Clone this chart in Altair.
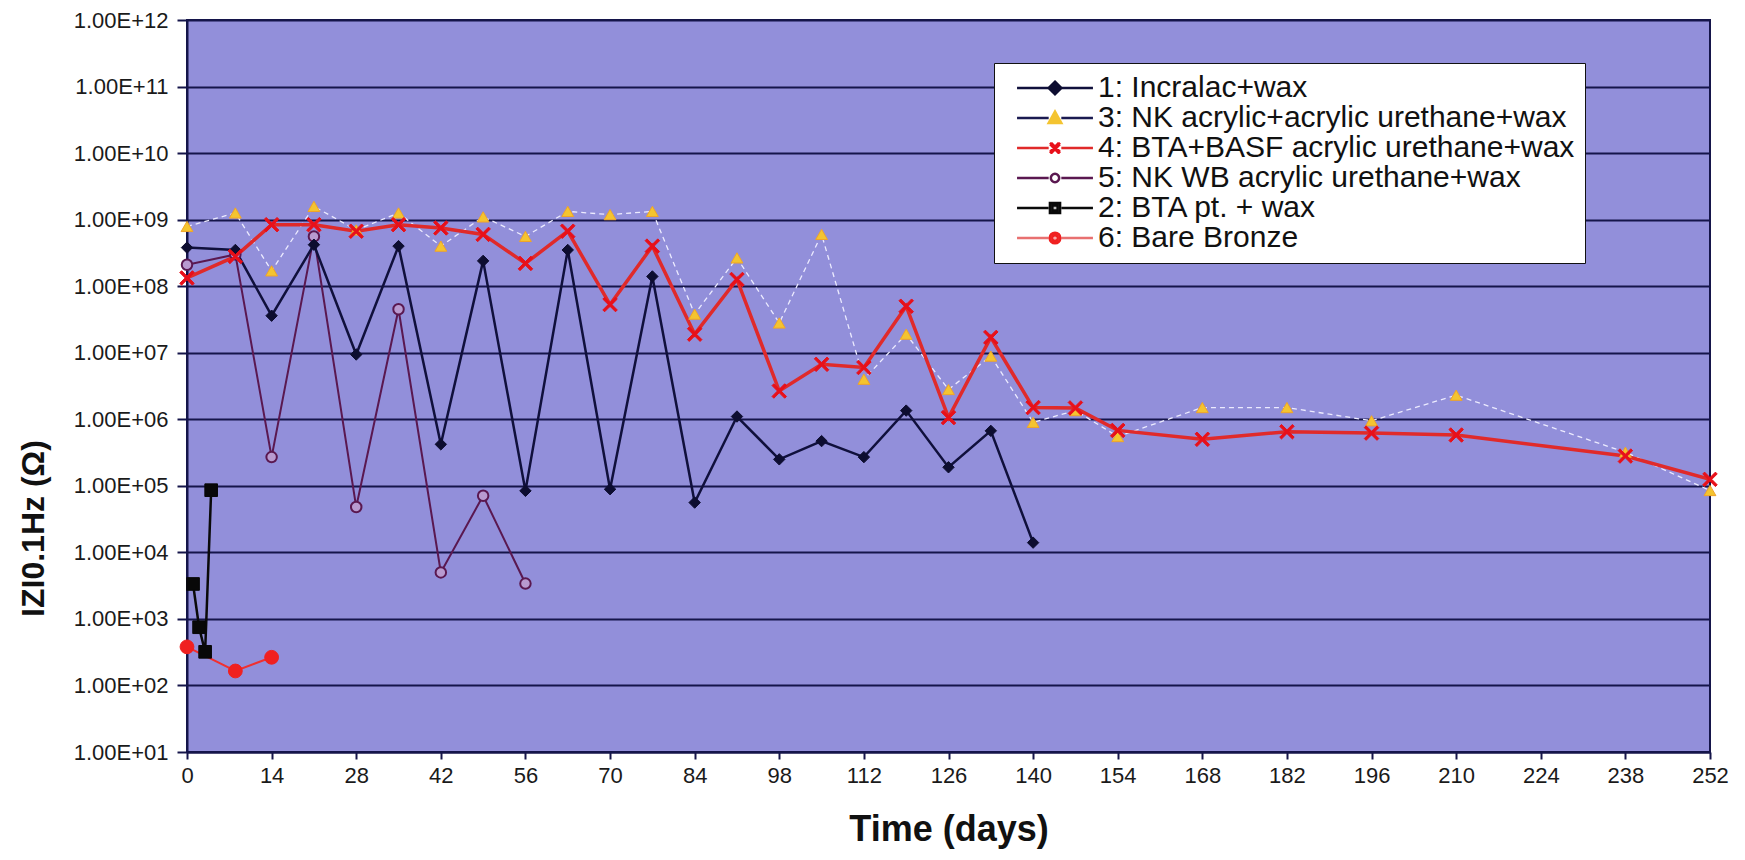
import altair as alt
import pandas as pd

# ---------------- data ----------------
names = [
    "1: Incralac+wax",
    "3: NK acrylic+acrylic urethane+wax",
    "4: BTA+BASF acrylic urethane+wax",
    "5: NK WB acrylic urethane+wax",
    "2: BTA pt. + wax",
    "6: Bare Bronze",
]

days_1 = [0, 8, 14, 21, 28, 35, 42, 49, 56, 63, 70, 77, 84, 91, 98, 105, 112, 119, 126, 133, 140]
z_1 = [3.8e8, 3.5e8, 3.6e7, 4.2e8, 9.4e6, 4.0e8, 4.2e5, 2.4e8, 8.4e4, 3.5e8, 8.9e4,
       1.4e8, 5.6e4, 1.1e6, 2.5e5, 4.7e5, 2.7e5, 1.35e6, 1.9e5, 6.7e5, 1.4e4]

days_3 = [0, 8, 14, 21, 28, 35, 42, 49, 56, 63, 70, 77, 84, 91, 98, 105, 112, 119, 126, 133,
          140, 147, 154, 168, 182, 196, 210, 238, 252]
z_3 = [7.9e8, 1.26e9, 1.7e8, 1.58e9, 7.0e8, 1.26e9, 4.0e8, 1.1e9, 5.6e8, 1.33e9, 1.19e9,
       1.33e9, 3.8e7, 2.66e8, 2.8e7, 6.0e8, 4.0e6, 1.9e7, 2.8e6, 8.9e6, 9.0e5, 1.35e6,
       5.5e5, 1.5e6, 1.5e6, 9.5e5, 2.3e6, 3.2e5, 8.5e4]

days_4 = [0, 8, 14, 21, 28, 35, 42, 49, 56, 63, 70, 77, 84, 91, 98, 105, 112, 119, 126, 133,
          140, 147, 154, 168, 182, 196, 210, 238, 252]
z_4 = [1.33e8, 2.8e8, 8.4e8, 8.4e8, 6.7e8, 8.4e8, 7.5e8, 6.0e8, 2.2e8, 6.7e8, 5.3e7,
       4.0e8, 1.9e7, 1.26e8, 2.66e6, 6.7e6, 6.0e6, 5.0e7, 1.06e6, 1.7e7, 1.5e6, 1.48e6,
       6.8e5, 5.0e5, 6.5e5, 6.2e5, 5.8e5, 2.8e5, 1.25e5]

days_5 = [0, 8, 14, 21, 28, 35, 42, 49, 56]
z_5 = [2.1e8, 3.0e8, 2.7e5, 5.6e8, 4.8e4, 4.5e7, 5.0e3, 7.1e4, 3.4e3]

days_2 = [1, 2, 3, 4]
z_2 = [3.35e3, 7.5e2, 3.2e2, 8.6e4]

days_6 = [0, 8, 14]
z_6 = [3.8e2, 1.65e2, 2.65e2]

x_ticks = list(range(0, 253, 14))
y_ticks = [10.0 ** k for k in range(1, 13)]

# ---------------- table ----------------
series_data = {
    names[0]: (days_1, z_1),
    names[1]: (days_3, z_3),
    names[2]: (days_4, z_4),
    names[3]: (days_5, z_5),
    names[4]: (days_2, z_2),
    names[5]: (days_6, z_6),
}
rows = []
for name, (dd, zz) in series_data.items():
    for d, z in zip(dd, zz):
        rows.append({"series": name, "day": d, "z": z})
df = pd.DataFrame(rows)

# ---------------- styles ----------------
NAVY = "#15154a"
X_PATH = ("M-1,-0.75L-0.75,-1L0,-0.25L0.75,-1L1,-0.75L0.25,0L1,0.75L0.75,1"
          "L0,0.25L-0.75,1L-1,0.75L-0.25,0Z")

style = {
    names[0]: dict(line="#10103c", lw=2.5, dash=None, shape="diamond", size=130,
                   fill="#0d0d30", stroke="#0d0d30", sw=1),
    names[1]: dict(line="#ecebff", lw=1.3, dash=[5, 4], shape="triangle-up", size=140,
                   fill="#f4c430", stroke="#f0a428", sw=1),
    names[2]: dict(line="#e02a2a", lw=3.5, dash=None, shape=X_PATH, size=210,
                   fill="#e8101a", stroke="#e8101a", sw=1),
    names[3]: dict(line="#5a1850", lw=2, dash=None, shape="circle", size=110,
                   fill="#b89ad0", stroke="#5a1850", sw=2),
    names[4]: dict(line="#0a0a0a", lw=2.5, dash=None, shape="square", size=160,
                   fill="#080808", stroke="#080808", sw=1),
    names[5]: dict(line="#f03030", lw=2, dash=None, shape="circle", size=190,
                   fill="#f02020", stroke="#f02020", sw=1),
}
draw_order = [names[3], names[0], names[1], names[2], names[4], names[5]]

# legend glyphs: a line legend underneath, a marker legend on top (markers drawn by nested strokes)
LEG_LINE = "M-3,0L-0.5,0M0.5,0L3,0"
leg_line_colors = ["#10103c", "#1a1a50", "#e02a2a", "#5a1850", "#0a0a0a", "#e87070"]
leg_marker_paths = [
    "M0,-0.5L0.5,0L0,0.5L-0.5,0ZM0,-0.3L0.3,0L0,0.3L-0.3,0ZM0,-0.1L0.1,0L0,0.1L-0.1,0Z",
    "M0,-0.5L0.5,0.4L-0.5,0.4ZM0,-0.26L0.3,0.28L-0.3,0.28ZM0,-0.05L0.12,0.17L-0.12,0.17Z",
    "M-0.4,-0.4L0.4,0.4M-0.4,0.4L0.4,-0.4M-0.4,-0.3L0.3,0.4M-0.3,-0.4L0.4,0.3"
    "M-0.4,0.3L0.3,-0.4M-0.3,0.4L0.4,-0.3",
    "M0.33,0A0.33,0.33,0,1,1,-0.33,0A0.33,0.33,0,1,1,0.33,0Z",
    "M-0.4,-0.4L0.4,-0.4L0.4,0.4L-0.4,0.4ZM-0.2,-0.2L0.2,-0.2L0.2,0.2L-0.2,0.2ZM-0.02,0L0.02,0",
    "M0.42,0A0.42,0.42,0,1,1,-0.42,0A0.42,0.42,0,1,1,0.42,0Z"
    "M0.22,0A0.22,0.22,0,1,1,-0.22,0A0.22,0.22,0,1,1,0.22,0ZM-0.03,0L0.03,0",
]
leg_marker_colors = ["#0d0d30", "#f4c430", "#e8101a", "#5a1850", "#080808", "#f02020"]

# ---------------- encodings ----------------
x_enc = alt.X(
    "day:Q",
    scale=alt.Scale(domain=[0, 252], nice=False, zero=False),
    axis=alt.Axis(
        values=x_ticks, grid=False, title="Time (days)", format="d",
        labelFont="Liberation Sans", labelFontSize=22, labelColor="#1a1a1a",
        labelPadding=6, labelFlush=False, labelOverlap=False,
        tickSize=7, tickWidth=2, tickColor=NAVY, domainColor=NAVY, domainWidth=2,
        titleFont="Liberation Sans", titleFontSize=36, titleFontWeight="bold",
        titleColor="#111111", titleBaseline="middle", titleY=77,
    ),
)
y_enc = alt.Y(
    "z:Q",
    scale=alt.Scale(type="log", domain=[10, 1e12], nice=False),
    axis=alt.Axis(
        values=y_ticks,
        labelExpr="'1.00E+' + (round(log(datum.value)/LN10) < 10 ? '0' : '') + round(log(datum.value)/LN10)",
        grid=True, gridColor=NAVY, gridWidth=2, gridOpacity=1,
        labelFont="Liberation Sans", labelFontSize=22, labelColor="#1a1a1a",
        labelPadding=9, labelOverlap=False, labelFlush=False,
        tickSize=10, tickWidth=2, tickColor=NAVY, domainColor=NAVY, domainWidth=2,
        title="IZI0.1Hz (Ω)", titleFont="Liberation Sans", titleFontSize=32,
        titleFontWeight="bold", titleColor="#111111", titleAngle=270,
        titleBaseline="middle", titleX=-154, titleY=508,
    ),
)

base = alt.Chart(df).encode(x=x_enc, y=y_enc)

layers = []
for name in draw_order:
    s = style[name]
    sub = base.transform_filter(alt.datum.series == name)
    line_kw = dict(color=s["line"], strokeWidth=s["lw"], clip=True)
    if s["dash"] is not None:
        line_kw["strokeDash"] = s["dash"]
    layers.append(sub.mark_line(**line_kw))
for name in draw_order:
    s = style[name]
    sub = base.transform_filter(alt.datum.series == name)
    layers.append(sub.mark_point(shape=s["shape"], size=s["size"], filled=True,
                                 fill=s["fill"], stroke=s["stroke"],
                                 strokeWidth=s["sw"], opacity=1))

common_leg = dict(
    title=None, orient="none", legendX=807, legendY=43, padding=10,
    labelFont="Liberation Sans", labelFontSize=30, labelColor="#111111",
    labelLimit=800, labelExpr="datum.label + '   '",
    symbolSize=640, symbolStrokeWidth=2.5,
    symbolOffset=36, labelOffset=28, rowPadding=0,
)
legend_lines = base.mark_point(filled=False, opacity=0).encode(
    stroke=alt.Stroke(
        "series:N",
        scale=alt.Scale(domain=names, range=leg_line_colors),
        legend=alt.Legend(fillColor="white", strokeColor="#111111",
                          symbolType=LEG_LINE, **common_leg),
    ),
)
legend_markers = base.mark_point(filled=False, opacity=0).encode(
    stroke=alt.Stroke(
        "series:N",
        scale=alt.Scale(domain=names, range=leg_marker_colors),
        legend=alt.Legend(labelOpacity=0, **common_leg),
    ),
    shape=alt.Shape(
        "series:N",
        scale=alt.Scale(domain=names, range=leg_marker_paths),
        legend=alt.Legend(labelOpacity=0, **common_leg),
    ),
)
layers.append(legend_lines)
layers.append(legend_markers)

chart = alt.layer(*layers).resolve_scale(
    stroke="independent", shape="independent"
).properties(
    width=1523,
    height=732,
    autosize=alt.AutoSizeParams(type="none"),
    padding={"left": 179, "top": 12, "right": 27, "bottom": 100},
    background="white",
).configure_view(
    fill="#928fda", stroke=NAVY, strokeWidth=2,
)

chart.save("out.html", embed_options={"renderer": "svg", "actions": False})
